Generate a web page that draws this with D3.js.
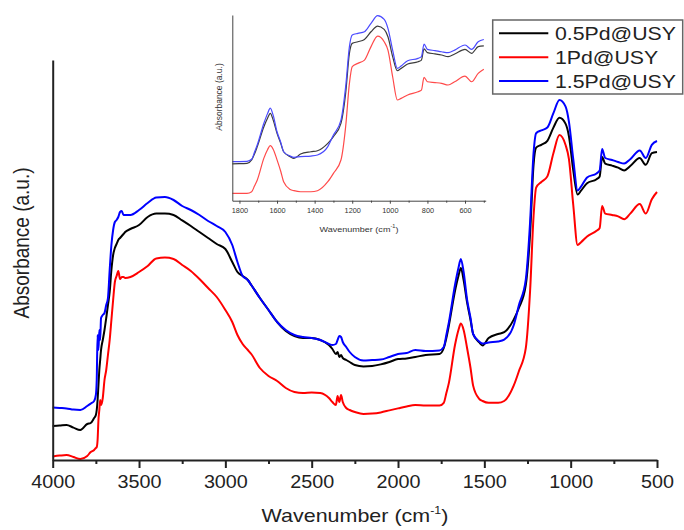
<!DOCTYPE html>
<html>
<head>
<meta charset="utf-8">
<script src="https://cdn.jsdelivr.net/npm/d3@7"></script>
<style>
  body { margin: 0; background: #fff; }
  svg text { font-family: Arial, "Liberation Sans", sans-serif; }
</style>
</head>
<body>
<div id="chart"></div>
<script>
// wavenumber (cm-1) and absorbance (a.u., arbitrary offset)
var wavenumbers = [4000, 3960, 3920, 3880, 3840, 3800, 3780, 3760, 3750, 3745,
  3740, 3735, 3730, 3725, 3720, 3710, 3700, 3690, 3680, 3670,
  3660, 3650, 3640, 3630, 3620, 3610, 3600, 3590, 3580, 3550,
  3500, 3450, 3400, 3350, 3300, 3250, 3200, 3150, 3100, 3050,
  3000, 2960, 2930, 2900, 2870, 2850, 2800, 2750, 2700, 2650,
  2600, 2550, 2500, 2450, 2400, 2380, 2360, 2350, 2340, 2330,
  2320, 2300, 2280, 2250, 2200, 2150, 2100, 2050, 2000, 1950,
  1900, 1840, 1760, 1735, 1720, 1705, 1670, 1650, 1636, 1620,
  1600, 1580, 1565, 1530, 1510, 1475, 1420, 1385, 1330, 1300,
  1260, 1235, 1215, 1200, 1170, 1135, 1100, 1065, 1030, 1010,
  985, 960, 940, 905, 850, 832, 818, 800, 760, 725,
  690, 655, 600, 565, 530, 500];

var pd05 = [8.5, 8.6, 8.75, 8.1, 7.5, 9.0, 9.25, 10.5, 11.25, 12.5,
  15, 18.75, 22.5, 25, 27.5, 30, 32.5, 35.5, 38.75, 42,
  47.5, 51.25, 53, 54, 55, 55.5, 56, 56.5, 57, 57.75,
  58.75, 60.75, 61.6, 61.6, 61.25, 59.9, 58.5, 57, 55.5, 54,
  52.75, 49.5, 47, 46, 45, 43.75, 40.5, 37.5, 34.5, 32.25,
  31, 30.5, 30.5, 30, 28.75, 27.75, 26.5, 27, 25.75, 26.25,
  25.5, 25, 24.5, 23.75, 23.4, 23.5, 23.9, 24.5, 25.25, 25.4,
  25.75, 26.25, 26.5, 28, 30.5, 33.75, 42.25, 46, 48, 45,
  39.4, 35, 31.5, 29.4, 28.65, 30.5, 31.5, 31.95, 35.1, 38,
  43.7, 56.6, 73.8, 78.1, 78.8, 79.8, 83.1, 85.55, 84.1, 80.95,
  72.4, 66.35, 67.35, 69.2, 70.2, 70.9, 75.75, 74.1, 73.6, 73.1,
  72.4, 73.5, 75.5, 73.8, 76.7, 77];

var pd1 = [0.9, 1.1, 1.25, 0.75, 0.25, 1.0, 2.0, 2.5, 3.0, 3.25,
  5, 10, 12.5, 15, 13.75, 15.5, 20, 22.5, 26.25, 30,
  35, 40, 44.5, 46, 47.25, 45.25, 45.75, 45.75, 45.5, 45.75,
  47, 48.5, 50.4, 50.6, 50.25, 48.75, 47.25, 45.25, 43, 40.75,
  37.5, 34.5, 31.25, 29, 27.5, 26.5, 23, 21, 19.75, 18,
  17, 16.75, 16.9, 16.75, 15.5, 14.5, 13.75, 16, 14.5, 16.25,
  14.5, 13, 12.5, 12, 11.5, 11.6, 11.9, 12.4, 12.9, 13.4,
  13.75, 13.6, 13.6, 14.3, 16.75, 19.35, 28.75, 32.5, 34.1, 32.5,
  28, 23, 18.6, 15.3, 14.75, 14.3, 14.3, 14.75, 18.6, 22.2,
  27.95, 42.3, 60.9, 68.1, 69.5, 70.9, 76.7, 81.25, 78.8, 75.2,
  63.75, 53.75, 54.45, 55.9, 57.3, 58, 63.5, 61.6, 61.25, 60.9,
  60.2, 61.6, 64, 61.6, 65.2, 67];

var pd15 = [13.1, 13.0, 12.9, 12.6, 12.5, 13.5, 14.1, 14.75, 16.25, 20,
  31.25, 27.5, 32.5, 30, 35.5, 36.25, 36.75, 38.75, 40.5, 47.5,
  53.75, 57.5, 59.5, 60, 60.75, 62, 62.25, 61.25, 61.25, 61.25,
  62.5, 64.25, 65.6, 65.75, 65, 63.5, 62.5, 61.25, 59.75, 58.5,
  57, 53.75, 49.5, 46, 45, 43.75, 40.5, 37.5, 34.5, 32.5,
  31.25, 30.75, 30.5, 30, 29, 28.75, 29, 30, 31, 30.75,
  29.5, 28.25, 27, 25.75, 24.9, 25, 25.1, 25.75, 26.5, 26.75,
  27.5, 27.25, 27.4, 28.25, 31.25, 34.5, 43.75, 48, 50.25, 47,
  40.1, 35.5, 31.5, 29.65, 29.1, 29.4, 29.65, 30.1, 33.7, 38.7,
  45.1, 59.5, 76.7, 81.7, 82.4, 83.1, 86.7, 90, 88.4, 84.55,
  75.2, 67.35, 68.35, 70.65, 71.65, 72.4, 77.75, 75.5, 75, 74.5,
  74.1, 75.2, 77.4, 75.5, 78.8, 79.75];

var seriesNames = ["0.5Pd@USY", "1Pd@USY", "1.5Pd@USY"];
var seriesValues = [pd05, pd1, pd15];
var seriesColors = ["#000000", "#ff0000", "#0000ff"];
var insetColors = ["#3c3c3c", "#ff4a4a", "#4a4aff"];

var mainTicks = [4000, 3500, 3000, 2500, 2000, 1500, 1000, 500];
var mainMinorTicks = [3750, 3250, 2750, 2250, 1750, 1250, 750];
var insetTicks = [1800, 1600, 1400, 1200, 1000, 800, 600];
var insetMinorTicks = [1700, 1500, 1300, 1100, 900, 700, 500];

var stretch = 1.13; // the figure text is a bit wide

var series = seriesNames.map(function (name, i) {
  return {
    name: name,
    color: seriesColors[i],
    inset: insetColors[i],
    points: wavenumbers.map(function (w, j) { return { w: w, a: seriesValues[i][j] }; })
  };
});

var svg = d3.select("#chart").append("svg")
  .attr("width", 684)
  .attr("height", 530);

// ---- main chart
var x = d3.scaleLinear().domain([4000, 500]).range([52.7, 657]);
var y = d3.scaleLinear().domain([0, 100]).range([460, 60]);

var line = d3.line()
  .x(function (d) { return x(d.w); })
  .y(function (d) { return y(d.a); })
  .curve(d3.curveMonotoneX);

svg.append("g").selectAll("path")
  .data(series)
  .enter()
  .append("path")
    .attr("d", function (d) { return line(d.points); })
    .attr("fill", "none")
    .attr("stroke", function (d) { return d.color; })
    .attr("stroke-width", 2)
    .attr("stroke-linejoin", "round");

var xAxis = svg.append("g")
  .attr("transform", "translate(0,460)")
  .call(d3.axisBottom(x).tickValues(mainTicks).tickFormat(d3.format("d"))
    .tickSize(8).tickSizeOuter(0).tickPadding(8));
xAxis.select(".domain").attr("stroke", "#222").attr("stroke-width", 2);
xAxis.selectAll(".tick line").attr("stroke", "#222").attr("stroke-width", 2);
xAxis.selectAll(".tick text")
  .attr("font-size", 17.5)
  .attr("fill", "#222")
  .attr("font-family", "Arial, 'Liberation Sans', sans-serif")
  .attr("transform", "scale(" + stretch + ",1)");

var xMinor = svg.append("g")
  .attr("transform", "translate(0,460)")
  .call(d3.axisBottom(x).tickValues(mainMinorTicks).tickSize(4).tickFormat(""));
xMinor.select(".domain").remove();
xMinor.selectAll(".tick line").attr("stroke", "#222").attr("stroke-width", 2);

var yAxis = svg.append("g")
  .attr("transform", "translate(52.7,0)")
  .call(d3.axisLeft(y).tickValues([]).tickSizeOuter(0));
yAxis.select(".domain").attr("stroke", "#222").attr("stroke-width", 2);

var xTitle = svg.append("text")
  .attr("transform", "translate(355,522) scale(" + stretch + ",1)")
  .attr("text-anchor", "middle")
  .attr("font-size", 19)
  .attr("fill", "#222");
xTitle.append("tspan").text("Wavenumber (cm");
xTitle.append("tspan").attr("font-size", 11).attr("dy", -8).text("-1");
xTitle.append("tspan").attr("dy", 8).text(")");

svg.append("text")
  .attr("transform", "translate(29,243) scale(" + stretch + ",1) rotate(-90)")
  .attr("text-anchor", "middle")
  .attr("font-size", 19)
  .attr("fill", "#222")
  .text("Absorbance (a.u.)");

// ---- inset
var ix = d3.scaleLinear().domain([1838, 490]).range([232.3, 485.7]);
var iy = d3.scaleLinear().domain([10.45, 90.3]).range([200.7, 15]);

var inset = svg.append("g");
inset.append("clipPath").attr("id", "inset-clip")
  .append("rect")
    .attr("x", 232.3).attr("y", 8)
    .attr("width", 253.4).attr("height", 192.7);

var insetLine = d3.line()
  .x(function (d) { return ix(d.w); })
  .y(function (d) { return iy(d.a); })
  .curve(d3.curveMonotoneX);

inset.append("g")
  .attr("clip-path", "url(#inset-clip)")
  .selectAll("path")
  .data(series)
  .enter()
  .append("path")
    .attr("d", function (d) { return insetLine(d.points); })
    .attr("fill", "none")
    .attr("stroke", function (d) { return d.inset; })
    .attr("stroke-width", 1.2);

var ixAxis = inset.append("g")
  .attr("transform", "translate(0,200.7)")
  .call(d3.axisBottom(ix).tickValues(insetTicks).tickFormat(d3.format("d"))
    .tickSize(3).tickSizeOuter(0).tickPadding(5));
ixAxis.select(".domain").attr("stroke", "#444");
ixAxis.selectAll(".tick line").attr("stroke", "#444");
ixAxis.selectAll(".tick text")
  .attr("font-size", 6.5)
  .attr("fill", "#333")
  .attr("font-family", "Arial, 'Liberation Sans', sans-serif")
  .attr("transform", "scale(" + stretch + ",1)");

var ixMinor = inset.append("g")
  .attr("transform", "translate(0,200.7)")
  .call(d3.axisBottom(ix).tickValues(insetMinorTicks).tickSize(2).tickFormat(""));
ixMinor.select(".domain").remove();
ixMinor.selectAll(".tick line").attr("stroke", "#444");

var iyAxis = inset.append("g")
  .attr("transform", "translate(232.3,0)")
  .call(d3.axisLeft(iy).tickValues([]).tickSizeOuter(0));
iyAxis.select(".domain").attr("stroke", "#444");

var ixTitle = inset.append("text")
  .attr("transform", "translate(359,231.5) scale(" + stretch + ",1)")
  .attr("text-anchor", "middle")
  .attr("font-size", 8)
  .attr("fill", "#333");
ixTitle.append("tspan").text("Wavenumber (cm");
ixTitle.append("tspan").attr("font-size", 5).attr("dy", -3.5).text("-1");
ixTitle.append("tspan").attr("dy", 3.5).text(")");

inset.append("text")
  .attr("transform", "translate(222,97) scale(" + stretch + ",1) rotate(-90)")
  .attr("text-anchor", "middle")
  .attr("font-size", 8.5)
  .attr("fill", "#333")
  .text("Absorbance (a.u.)");

// ---- legend
var legend = svg.append("g");
legend.append("rect")
  .attr("x", 492.7).attr("y", 20)
  .attr("width", 190).attr("height", 74)
  .attr("fill", "#fff")
  .attr("stroke", "#666")
  .attr("stroke-width", 1.5);

var rows = legend.selectAll("g.row")
  .data(series)
  .enter()
  .append("g")
    .attr("class", "row")
    .attr("transform", function (d, i) { return "translate(0," + (33.3 + i * 23.9) + ")"; });

rows.append("line")
  .attr("x1", 499).attr("x2", 548.3)
  .attr("stroke", function (d) { return d.color; })
  .attr("stroke-width", 2);

rows.append("text")
  .attr("transform", "translate(555,6.6) scale(1.15,1)")
  .attr("font-size", 18.5)
  .attr("fill", "#222")
  .text(function (d) { return d.name; });
</script>
</body>
</html>
